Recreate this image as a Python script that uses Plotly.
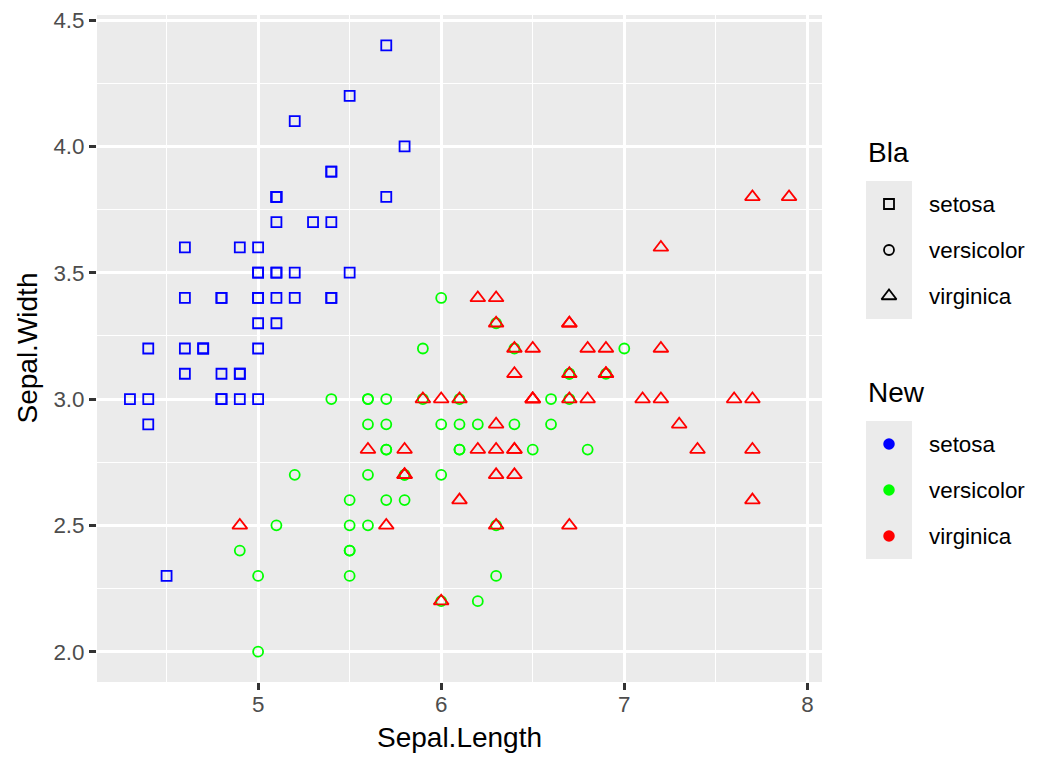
import plotly.graph_objects as go

W, H = 1056, 768

species = ['setosa', 'versicolor', 'virginica']
colors = ['#0000FF', '#00FF00', '#FF0000']
symbols = ['square-open', 'circle-open', 'triangle-up-open']
sizes = [10, 10, 13]

setosa_len = [5.1, 4.9, 4.7, 4.6, 5.0, 5.4, 4.6, 5.0, 4.4, 4.9, 5.4, 4.8, 4.8, 4.3, 5.8,
              5.7, 5.4, 5.1, 5.7, 5.1, 5.4, 5.1, 4.6, 5.1, 4.8, 5.0, 5.0, 5.2, 5.2, 4.7,
              4.8, 5.4, 5.2, 5.5, 4.9, 5.0, 5.5, 4.9, 4.4, 5.1, 5.0, 4.5, 4.4, 5.0, 5.1,
              4.8, 5.1, 4.6, 5.3, 5.0]
setosa_wid = [3.5, 3.0, 3.2, 3.1, 3.6, 3.9, 3.4, 3.4, 2.9, 3.1, 3.7, 3.4, 3.0, 3.0, 4.0,
              4.4, 3.9, 3.5, 3.8, 3.8, 3.4, 3.7, 3.6, 3.3, 3.4, 3.0, 3.4, 3.5, 3.4, 3.2,
              3.1, 3.4, 4.1, 4.2, 3.1, 3.2, 3.5, 3.6, 3.0, 3.4, 3.5, 2.3, 3.2, 3.5, 3.8,
              3.0, 3.8, 3.2, 3.7, 3.3]
versicolor_len = [7.0, 6.4, 6.9, 5.5, 6.5, 5.7, 6.3, 4.9, 6.6, 5.2, 5.0, 5.9, 6.0, 6.1, 5.6,
                  6.7, 5.6, 5.8, 6.2, 5.6, 5.9, 6.1, 6.3, 6.1, 6.4, 6.6, 6.8, 6.7, 6.0, 5.7,
                  5.5, 5.5, 5.8, 6.0, 5.4, 6.0, 6.7, 6.3, 5.6, 5.5, 5.5, 6.1, 5.8, 5.0, 5.6,
                  5.7, 5.7, 6.2, 5.1, 5.7]
versicolor_wid = [3.2, 3.2, 3.1, 2.3, 2.8, 2.8, 3.3, 2.4, 2.9, 2.7, 2.0, 3.0, 2.2, 2.9, 2.9,
                  3.1, 3.0, 2.7, 2.2, 2.5, 3.2, 2.8, 2.5, 2.8, 2.9, 3.0, 2.8, 3.0, 2.9, 2.6,
                  2.4, 2.4, 2.7, 2.7, 3.0, 3.4, 3.1, 2.3, 3.0, 2.5, 2.6, 3.0, 2.6, 2.3, 2.7,
                  3.0, 2.9, 2.9, 2.5, 2.8]
virginica_len = [6.3, 5.8, 7.1, 6.3, 6.5, 7.6, 4.9, 7.3, 6.7, 7.2, 6.5, 6.4, 6.8, 5.7, 5.8,
                 6.4, 6.5, 7.7, 7.7, 6.0, 6.9, 5.6, 7.7, 6.3, 6.7, 7.2, 6.2, 6.1, 6.4, 7.2,
                 7.4, 7.9, 6.4, 6.3, 6.1, 7.7, 6.3, 6.4, 6.0, 6.9, 6.7, 6.9, 5.8, 6.8, 6.7,
                 6.7, 6.3, 6.5, 6.2, 5.9]
virginica_wid = [3.3, 2.7, 3.0, 2.9, 3.0, 3.0, 2.5, 2.9, 2.5, 3.6, 3.2, 2.7, 3.0, 2.5, 2.8,
                 3.2, 3.0, 3.8, 2.6, 2.2, 3.2, 2.8, 2.8, 2.7, 3.3, 3.2, 2.8, 3.0, 2.8, 3.0,
                 2.8, 3.8, 2.8, 2.8, 2.6, 3.0, 3.4, 3.1, 3.0, 3.1, 3.1, 3.1, 2.7, 3.2, 3.3,
                 3.0, 2.5, 3.0, 3.4, 3.0]

x_ticks = [5, 6, 7, 8]
y_ticks = [2.0, 2.5, 3.0, 3.5, 4.0, 4.5]

data_len = [setosa_len, versicolor_len, virginica_len]
data_wid = [setosa_wid, versicolor_wid, virginica_wid]

FONT = 'Liberation Sans'

# panel box in pixels
px0, px1, py0, py1 = 97, 822, 15, 682

fig = go.Figure()

# panel background
fig.add_shape(type='rect', xref='x domain', yref='y domain', x0=0, x1=1, y0=0, y1=1,
              fillcolor='#EBEBEB', line_width=0, layer='below')

for i, sp in enumerate(species):
    fig.add_trace(go.Scatter(
        x=data_len[i], y=data_wid[i], mode='markers', name=sp, showlegend=False,
        marker=dict(symbol=symbols[i], size=sizes[i], color=colors[i],
                    line=dict(width=1.8, color=colors[i]))))

# legends drawn on a pixel overlay axis
key_x = 889
text_x = 927
row_h = 46
legends = [
    ('Bla', 152, 181, [dict(symbol=symbols[i], size=sizes[i], color='black',
                            line=dict(width=1.8, color='black')) for i in range(3)]),
    ('New', 392, 421, [dict(symbol='circle', size=11.5, color=colors[i],
                            line=dict(width=0)) for i in range(3)]),
]
for title, ty, top, markers in legends:
    fig.add_annotation(x=866, y=ty, xref='x2', yref='y2', text=title, showarrow=False,
                       xanchor='left', yanchor='middle',
                       font=dict(family=FONT, size=28, color='black'))
    fig.add_shape(type='rect', xref='x2', yref='y2', x0=866, x1=912, y0=top,
                  y1=top + row_h * 3, fillcolor='#EBEBEB', line_width=0, layer='below')
    for i, sp in enumerate(species):
        cy = top + row_h * (i + 0.5)
        fig.add_trace(go.Scatter(x=[key_x], y=[cy], xaxis='x2', yaxis='y2', mode='markers',
                                 marker=markers[i], showlegend=False, hoverinfo='skip'))
        fig.add_annotation(x=text_x, y=cy, xref='x2', yref='y2', text=sp, showarrow=False,
                           xanchor='left', yanchor='middle',
                           font=dict(family=FONT, size=22.4, color='black'))

# axis titles
fig.add_annotation(x=(px0 + px1) / 2, y=737, xref='x2', yref='y2', text='Sepal.Length',
                   showarrow=False, xanchor='center', yanchor='middle',
                   font=dict(family=FONT, size=28, color='black'))
fig.add_annotation(x=27, y=(py0 + py1) / 2, xref='x2', yref='y2', text='Sepal.Width',
                   showarrow=False, xanchor='center', yanchor='middle', textangle=-90,
                   font=dict(family=FONT, size=28, color='black'))

axis_common = dict(showline=False, zeroline=False, ticks='outside', ticklen=7, tickwidth=2.6,
                   tickcolor='#333333', gridcolor='white', gridwidth=2.6, automargin=False,
                   tickfont=dict(family=FONT, size=22.4, color='#4D4D4D'))

fig.update_layout(
    width=W, height=H,
    margin=dict(l=0, r=0, t=0, b=0),
    paper_bgcolor='white', plot_bgcolor='rgba(0,0,0,0)',
    xaxis=dict(domain=[px0 / W, px1 / W], range=[4.12, 8.08], tickvals=x_ticks,
               ticklabelstandoff=-5,
               minor=dict(dtick=0.5, tick0=0, showgrid=True, gridcolor='white', gridwidth=1.3),
               **axis_common),
    yaxis=dict(domain=[1 - py1 / H, 1 - py0 / H], range=[1.88, 4.52], tickvals=y_ticks,
               tickformat='.1f',
               minor=dict(dtick=0.25, tick0=0, showgrid=True, gridcolor='white', gridwidth=1.3),
               **axis_common),
    xaxis2=dict(domain=[0, 1], range=[0, W], visible=False, anchor='y2', fixedrange=True),
    yaxis2=dict(domain=[0, 1], range=[H, 0], visible=False, anchor='x2', fixedrange=True),
)

# drop the default page margin so the figure sits at the window origin
fig.write_html('out.html', config={'displayModeBar': False},
               post_script="document.body.style.margin='0';")
